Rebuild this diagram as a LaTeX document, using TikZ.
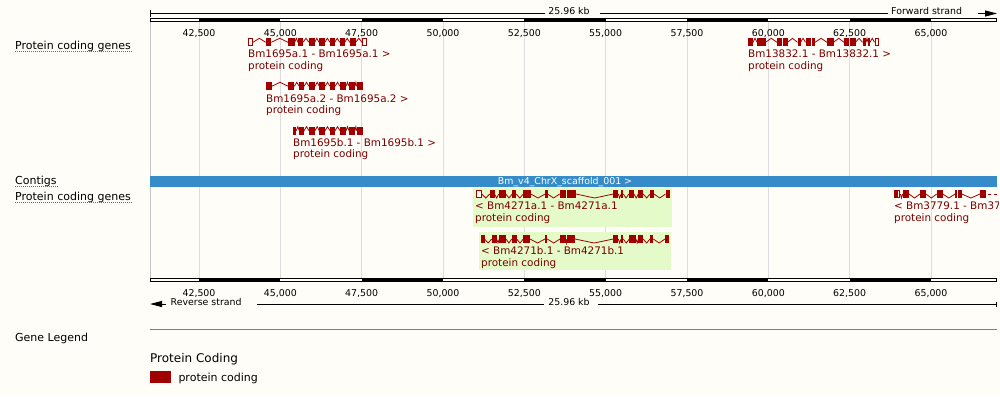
\documentclass[tikz,border=0pt]{standalone}
\usepackage{fontspec}
\setmainfont{DejaVu Sans}
\usetikzlibrary{arrows.meta}
\definecolor{bgc}{HTML}{FFFDF7}
\definecolor{genec}{HTML}{A00000}
\definecolor{genet}{HTML}{7A0000}
\definecolor{contigc}{HTML}{368CC8}
\definecolor{hlc}{HTML}{E4FBC9}
\definecolor{gridc}{HTML}{DCDCDC}
\definecolor{gridd}{HTML}{C4C4C4}
\definecolor{ulc}{HTML}{3F74C4}
\definecolor{legc}{HTML}{808080}
\newcommand\fsz[1]{\fontsize{#1}{#1}\selectfont}
\tikzset{
  lbl/.style={anchor=base west, inner sep=0pt, font=\fsz{11}},
  tick/.style={anchor=base, inner sep=0pt, font=\fsz{9.4}},
  glabel/.style={anchor=base west, inner sep=0pt, font=\fsz{10.4}, text=genet},
  uline/.style={draw=ulc, line width=1pt, dash pattern=on 1pt off 1pt},
  exf/.style={fill=genec},
  exo/.style={draw=genec, fill=bgc, line width=1pt},
  intron/.style={draw=genec, line width=0.8pt},
  rulerline/.style={draw=black, line width=1pt},
}
% #1 top y, #2 peak offset (0 up, 8 down), #3 exon list start/end/type
\newcommand\genedraw[3]{%
  \foreach \xs/\xe/\typ [remember=\xe as \pe (initially 0)] in {#3}{%
    \pgfmathparse{((\xs-\pe>1.2) && (\pe>0)) ? 1 : 0}%
    \ifdim\pgfmathresult pt>0.5pt
      \draw[intron] (\pe,#1+4) -- ({(\pe+\xs)/2},#1+#2) -- (\xs,#1+4);
    \fi
    \if\typ o
      \path[exo] (\xs+0.5,#1+0.5) rectangle (\xe-0.5,#1+7.5);
    \else
      \path[exf] (\xs,#1) rectangle (\xe,#1+8);
    \fi
  }}
\newcommand\ticklist{0/{42,500},1/{45,000},2/{47,500},3/{50,000},4/{52,500},5/{55,000},6/{57,500},7/{60,000},8/{62,500},9/{65,000}}
\begin{document}
\begin{tikzpicture}[x=1pt,y=-1pt]
\useasboundingbox[fill=bgc] (0,0) rectangle (1000,396);

% grid lines
\foreach \i in {0,...,9}
  \draw[gridc, line width=1pt] ({199+81.333*\i},22) -- ({199+81.333*\i},278);
\draw[gridd, line width=1pt] (150.5,22) -- (150.5,278);

% top ruler
\draw[rulerline] (150.5,10) -- (150.5,16.7);
\node[tick] (kbtop) at (569,14.4) {25.96 kb};
\node[tick, anchor=base west] (fwd) at (891,14.4) {Forward strand};
\draw[rulerline] (150,13.3) -- (545,13.3);
\draw[rulerline] (600,13.3) -- (888,13.3);
\draw[rulerline, -{Triangle[length=12pt,width=6pt]}] (978,13.5) -- (997,13.5);

% top scale bar
\draw[line width=1pt] (150.5,18.5) rectangle (996.5,21.5);
\foreach \a in {0,2,4,6,8}
  \fill ({199+81.333*\a},18) rectangle ({199+81.333*(\a+1)},22);
\foreach \i/\lab in \ticklist
  \node[tick] (t\i) at ({199+81.333*\i},36.6) {\lab};

% bottom scale bar
\draw[line width=1pt] (150.5,278.5) rectangle (996.5,281.5);
\foreach \a in {0,2,4,6,8}
  \fill ({199+81.333*\a},278) rectangle ({199+81.333*(\a+1)},282);
\foreach \i/\lab in \ticklist
  \node[tick] (b\i) at ({199+81.333*\i},296.3) {\lab};

% bottom ruler
\draw[rulerline, -{Triangle[length=12pt,width=6pt]}] (166,304) -- (150,304);
\node[tick, anchor=base west] (rev) at (170.5,305.5) {Reverse strand};
\node[tick] (kbbot) at (569,305.5) {25.96 kb};
\draw[rulerline] (257,304) -- (544,304);
\draw[rulerline] (598,304) -- (997,304);
\draw[rulerline] (996.5,301.5) -- (996.5,306.7);

% left labels
\node[lbl] (l1) at (15,49) {Protein coding genes};
\node[lbl] (l2) at (15,184) {Contigs};
\node[lbl] (l3) at (15,200) {Protein coding genes};
\draw[uline] ([yshift=-2.4pt]l1.base west) -- ([yshift=-2.4pt,xshift=2pt]l1.base east);
\draw[uline] ([yshift=-2.2pt]l2.base west) -- ([yshift=-2.2pt,xshift=1pt]l2.base east);
\draw[uline] ([yshift=-2.4pt]l3.base west) -- ([yshift=-2.4pt,xshift=2pt]l3.base east);

% forward genes
\genedraw{38.3}{0}{248/253/o,265.7/271.3/f,288/294.7/f,298/303/f,309/314.7/f,319/324.7/f,330/334.7/f,339.7/344.7/f,349.7/355.7/f,362/366.7/o}
\node[glabel] (g1a) at (248,58) {Bm1695a.1 - Bm1695a.1 >};
\node[glabel] (g1b) at (248,69.3) {protein coding};

\genedraw{82.3}{0}{266/271.7/f,288.3/294.3/f,299.3/304/f,309/315/f,319.3/325/f,330/335/f,340/346/f,349/355/f,356.7/362.7/f}
\node[glabel] (g2a) at (266,102) {Bm1695a.2 - Bm1695a.2 >};
\node[glabel] (g2b) at (266,113.3) {protein coding};

\genedraw{126.7}{0}{293.3/296.3/f,299.3/304/f,309/315/f,319.3/325/f,330/335/f,340/346/f,349/355/f,356.7/362.7/f}
\node[glabel] (g3a) at (293,146.4) {Bm1695b.1 - Bm1695b.1 >};
\node[glabel] (g3b) at (293,157.7) {protein coding};

\genedraw{38.3}{0}{748/753/f,757/765.5/f,777/781.5/f,782.5/787.5/f,797.5/800.5/f,805.5/811/f,811.5/815/f,827/833.5/f,844/849/f,849.8/855.5/f,862.5/866/f,868/870/f,874.5/879/o}
\node[glabel] (g4a) at (748,58) {Bm13832.1 - Bm13832.1 >};
\node[glabel] (g4b) at (748,69.3) {protein coding};

% contig
\fill[contigc] (150,175.5) rectangle (997,186.5);
\node[tick, text=white] (contig) at (565,184.8) {Bm\_v4\_ChrX\_scaffold\_001 >};

% reverse genes
\fill[hlc] (473.3,188.3) rectangle (672.3,226.7);
\fill[hlc] (479,231.7) rectangle (671,270);
\genedraw{190}{8}{475.7/481.7/o,489.7/494.5/f,498.8/505.8/f,512.2/516.3/f,523.3/530.8/f,545.2/547.5/f,559.7/566/f,567/576/f,613.3/618.3/f,621/623.3/f,628.8/634/f,638.3/643.3/f,650/654/f,665.5/670/f}
\node[glabel] (g5a) at (475,209.7) {< Bm4271a.1 - Bm4271a.1};
\node[glabel] (g5b) at (475,221) {protein coding};

\genedraw{235}{8}{481/484.5/f,491.7/496.7/f,499.3/506/f,511.7/516.7/f,523.3/530/f,545/547.3/f,560/566/f,567.3/575/f,613.3/618.3/f,621/623.3/f,629.3/636/f,638.3/643.3/f,650/653.3/f,665/669.3/f}
\node[glabel] (g6a) at (481,254.7) {< Bm4271b.1 - Bm4271b.1};
\node[glabel] (g6b) at (481,266) {protein coding};

\begin{scope}
\clip (150,186.5) rectangle (998,230);
\genedraw{190}{8}{894.3/897.3/f,897.3/900.3/o,902.7/909/f,920/926/f,936.7/942.7/f,955/956.7/f,957.7/961.7/f,980/986/f}
\draw[intron, dash pattern=on 3pt off 3pt] (988,194) -- (997,194);
\node[glabel] (g7a) at (894,209.7) {< Bm3779.1 - Bm37};
\node[glabel] (g7b) at (894,221) {protein coding};
\end{scope}

% legend
\draw[legc, line width=1pt] (150,329.5) -- (997,329.5);
\node[lbl] (gl) at (15,341.3) {Gene Legend};
\node[lbl, font=\fsz{12}] (pc) at (150,362) {Protein Coding};
\fill[genec] (150,371) rectangle (171,382.7);
\node[lbl] (pcs) at (178.3,381.5) {protein coding};
\end{tikzpicture}
\end{document}
